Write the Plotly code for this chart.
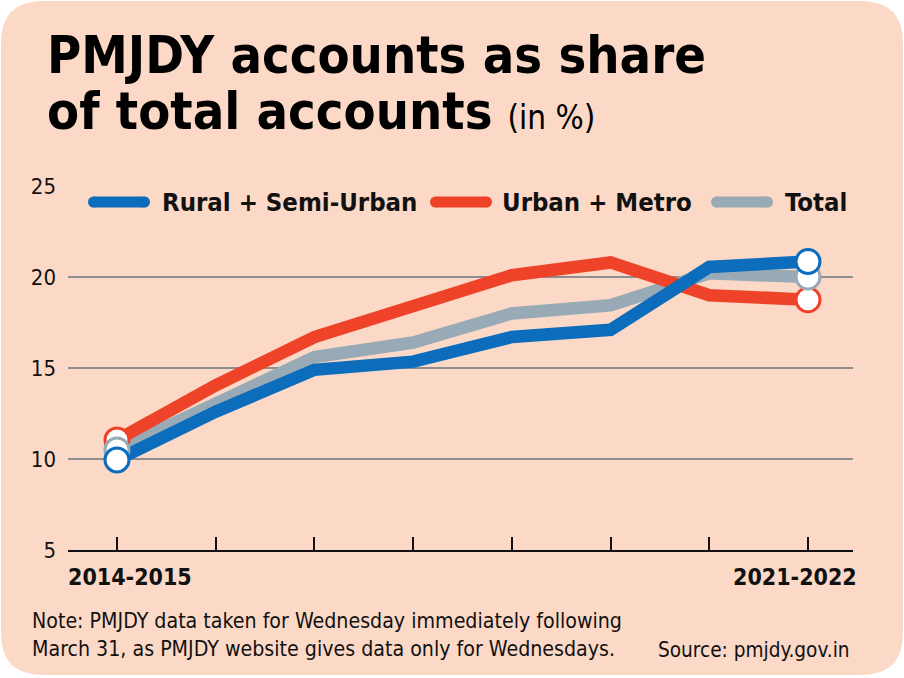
import plotly.graph_objects as go

# ---------------- data ----------------
years = ["2014-2015", "2015-2016", "2016-2017", "2017-2018",
         "2018-2019", "2019-2020", "2020-2021", "2021-2022"]
rural_semi_urban = [9.95, 12.6, 14.9, 15.35, 16.7, 17.1, 20.55, 20.85]
urban_metro = [11.05, 14.05, 16.7, 18.45, 20.1, 20.8, 19.0, 18.75]
total = [10.5, 13.1, 15.6, 16.4, 18.0, 18.45, 20.2, 20.0]
y_ticks = [5, 10, 15, 20, 25]

BLUE = "#0b6dbb"
RED = "#ee4229"
GRAY = "#98aab6"
BG = "#fcd9c6"
INK = "#111111"

FONT = "DejaVu Sans Condensed, DejaVu Sans, sans-serif"

# plot-area pixel geometry
L, R, T, B = 68, 853, 186, 550
W, H = R - L, B - T
FW, FH = 904, 678


def px(x):
    return (x - L) / W


def py(y):
    return (B - y) / H


x_idx = list(range(len(years)))
fig = go.Figure()

series = [("Total", total, GRAY), ("Urban + Metro", urban_metro, RED),
          ("Rural + Semi-Urban", rural_semi_urban, BLUE)]
for name, vals, col in series:
    fig.add_trace(go.Scatter(x=x_idx, y=vals, mode="lines", name=name,
                             line=dict(color=col, width=12.5),
                             showlegend=False, hoverinfo="skip"))

# end markers (red, gray, blue stacking)
for name, vals, col in [series[1], series[0], series[2]]:
    fig.add_trace(go.Scatter(x=[x_idx[0], x_idx[-1]], y=[vals[0], vals[-1]],
                             mode="markers", showlegend=False,
                             marker=dict(size=24, color="white",
                                         line=dict(color=col, width=3)),
                             hoverinfo="skip"))

shapes = []
# rounded card background
x0, x1 = px(1), px(903)
y0, y1 = py(1), py(675)
rx, ry = 42 / W, 42 / H
card = (f"M {x0+rx},{y0} L {x1-rx},{y0} Q {x1},{y0} {x1},{y0-ry} "
        f"L {x1},{y1+ry} Q {x1},{y1} {x1-rx},{y1} "
        f"L {x0+rx},{y1} Q {x0},{y1} {x0},{y1+ry} "
        f"L {x0},{y0-ry} Q {x0},{y0} {x0+rx},{y0} Z")
shapes.append(dict(type="path", path=card, xref="paper", yref="paper",
                   fillcolor=BG, line=dict(width=0), layer="below"))

# manual legend
legend_items = [("Rural + Semi-Urban", BLUE, 88, 150, 160),
                ("Urban + Metro", RED, 430, 492, 500),
                ("Total", GRAY, 711, 773, 783)]
annotations = []
LY = 202
lw = 11
for label, col, a, b, tx in legend_items:
    shapes.append(dict(type="line", xref="paper", yref="paper",
                       x0=px(a + lw / 2), x1=px(b - lw / 2), y0=py(LY), y1=py(LY),
                       line=dict(color=col, width=lw)))
    for cx in (a + lw / 2, b - lw / 2):
        shapes.append(dict(type="circle", xref="paper", yref="paper",
                           x0=px(cx - lw / 2), x1=px(cx + lw / 2),
                           y0=py(LY + lw / 2), y1=py(LY - lw / 2),
                           fillcolor=col, line=dict(width=0)))
    annotations.append(dict(text=f"<b>{label}</b>", xref="paper", yref="paper",
                            x=px(tx), y=py(LY), xanchor="left", yanchor="middle",
                            showarrow=False,
                            font=dict(family=FONT, size=25.5, color=INK)))

# title
annotations.append(dict(text="<b>PMJDY accounts as share</b>", xref="paper", yref="paper",
                        x=px(45), y=py(55), xanchor="left", yanchor="middle",
                        showarrow=False, font=dict(family=FONT, size=52, color="black")))
annotations.append(dict(text="<b>of total accounts</b> <span style='font-size:33px;font-weight:normal'>(in %)</span>",
                        xref="paper", yref="paper",
                        x=px(45), y=py(111), xanchor="left", yanchor="middle",
                        showarrow=False, font=dict(family=FONT, size=52, color="black")))

# x end labels
annotations.append(dict(text="<b>2014-2015</b>", xref="paper", yref="paper",
                        x=px(66), y=py(577), xanchor="left", yanchor="middle",
                        showarrow=False, font=dict(family=FONT, size=23, color=INK)))
annotations.append(dict(text="<b>2021-2022</b>", xref="paper", yref="paper",
                        x=px(859), y=py(577), xanchor="right", yanchor="middle",
                        showarrow=False, font=dict(family=FONT, size=23, color=INK)))

# notes
annotations.append(dict(text="Note: PMJDY data taken for Wednesday immediately following",
                        xref="paper", yref="paper", x=px(30), y=py(620),
                        xanchor="left", yanchor="middle", showarrow=False,
                        font=dict(family=FONT, size=21.2, color=INK)))
annotations.append(dict(text="March 31, as PMJDY website gives data only for Wednesdays.",
                        xref="paper", yref="paper", x=px(30), y=py(648),
                        xanchor="left", yanchor="middle", showarrow=False,
                        font=dict(family=FONT, size=21.2, color=INK)))
annotations.append(dict(text="Source: pmjdy.gov.in",
                        xref="paper", yref="paper", x=px(852), y=py(650),
                        xanchor="right", yanchor="middle", showarrow=False,
                        font=dict(family=FONT, size=20.6, color=INK)))

fig.update_layout(
    width=FW, height=FH,
    margin=dict(l=L, r=FW - R, t=T, b=FH - B),
    paper_bgcolor="white", plot_bgcolor="rgba(0,0,0,0)",
    shapes=shapes, annotations=annotations, showlegend=False,
    xaxis=dict(range=[-(117 - L) / 98.7, 7 + (R - 808) / 98.7],
               tickvals=x_idx, showticklabels=False, ticks="inside",
               ticklen=13, tickwidth=2, tickcolor=INK,
               showline=True, linecolor=INK, linewidth=2,
               showgrid=False, zeroline=False, fixedrange=True),
    yaxis=dict(range=[5, 25], tickvals=y_ticks, showgrid=True,
               gridcolor="#8e8e8e", gridwidth=2, zeroline=False,
               showline=False, ticks="", ticklabelstandoff=11,
               tickfont=dict(family=FONT, size=22, color=INK), fixedrange=True),
)

fig.write_html("out.html")
